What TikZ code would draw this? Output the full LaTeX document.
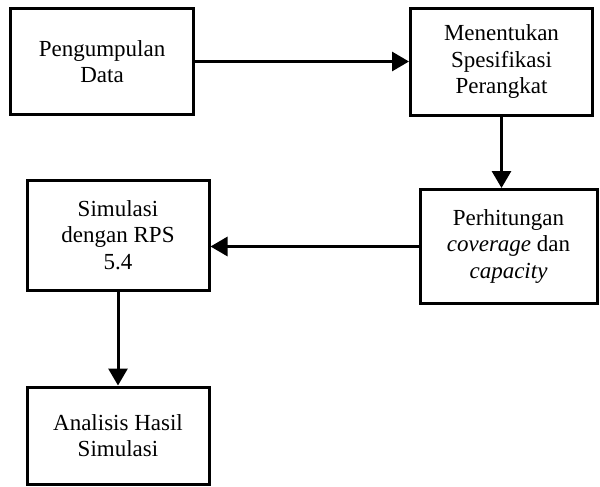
\documentclass[tikz,border=0pt]{standalone}
\usepackage{fontspec}
\setmainfont{Liberation Serif}
\usetikzlibrary{arrows.meta}
\begin{document}
\begin{tikzpicture}[x=1pt,y=-1pt,
  box/.style={draw,line width=3pt,align=center,inner sep=0pt,
    font=\fontsize{23}{26.5}\selectfont},
  arr/.style={line width=3pt,-{Triangle[length=17pt,width=19pt]}}]
\useasboundingbox (0,0) rectangle (600,487);
\node[box,minimum width=183pt,minimum height=106pt] (b1) at (102,61.5) {Pengumpulan\\Data};
\node[box,minimum width=182pt,minimum height=107pt] (b2) at (501.5,62) {Menentukan\\Spesifikasi\\Perangkat};
\node[box,minimum width=177pt,minimum height=114pt] (b3) at (508.5,246.5) {Perhitungan\\\textit{coverage} dan\\\textit{capacity}};
\node[box,minimum width=182pt,minimum height=110pt] (b4) at (118,235) {Simulasi\\dengan RPS\\5.4};
\node[box,minimum width=182pt,minimum height=97pt] (b5) at (118,435.5) {Analisis Hasil\\Simulasi};
\draw[arr] (b1.east) -- (b1.east -| b2.west);
\draw[arr] (b2.south) -- (b2.south |- b3.north);
\draw[arr] (b3.west) -- (b3.west -| b4.east);
\draw[arr] (b4.south) -- (b5.north);
\end{tikzpicture}
\end{document}
